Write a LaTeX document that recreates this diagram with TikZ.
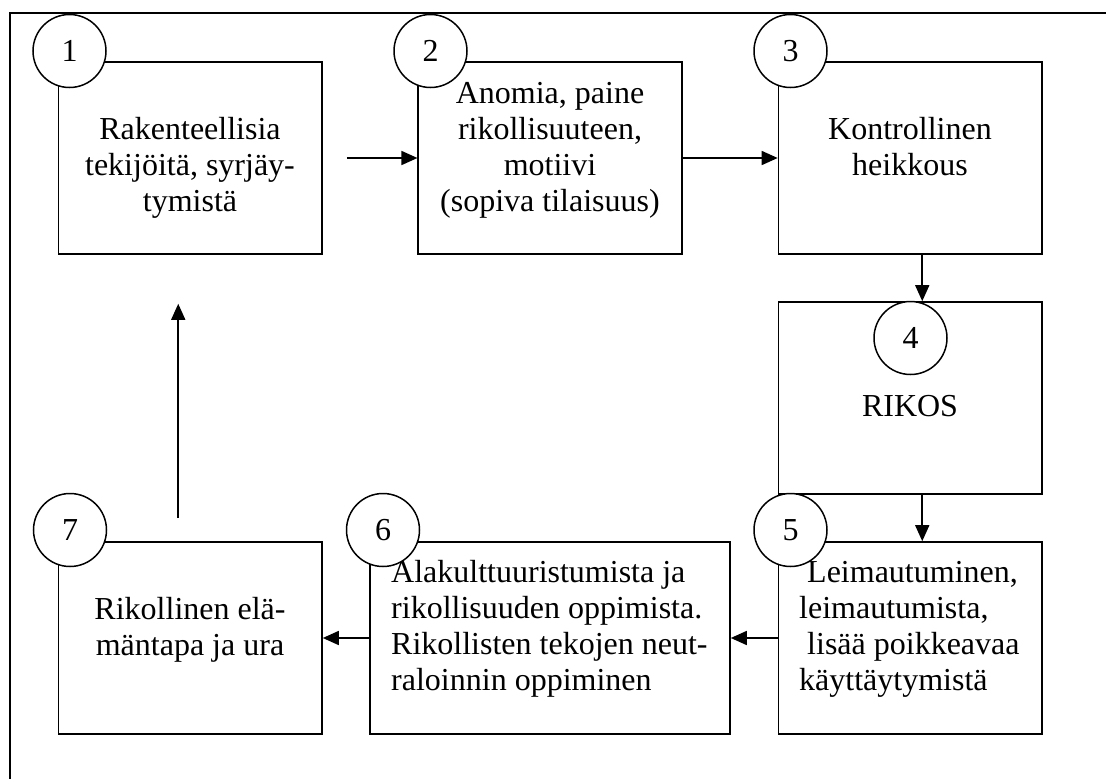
\documentclass[tikz,border=0pt]{standalone}
\usepackage{fontspec}
\setmainfont{Liberation Serif}
\usepackage{tikz}
\usetikzlibrary{positioning,shapes,arrows.meta,calc}

\tikzset{
  box/.style = {draw, line width=1.6pt, minimum width=263.5pt, minimum height=192pt, inner sep=0pt},
  num/.style = {draw, circle, line width=1.5pt, fill=white, minimum size=73pt, inner sep=0pt, font=\fontsize{32}{36}\selectfont},
  txt/.style = {inner sep=0pt, font=\fontsize{32}{36}\selectfont},
  arr/.style = {line width=1.6pt, -{Triangle[length=16pt, width=14pt]}}
}

\begin{document}
\begin{tikzpicture}[x=1pt, y=-1pt]

\useasboundingbox (0,0) rectangle (1106,779);
\draw[line width=2.2pt] (10,779) -- (10,13) -- (1106,13);

\node[box] (b1) at (190.25,158) {};
\node[box] (b2) at (550,158) {};
\node[box] (b3) at (910.25,158) {};
\node[box] (b4) at (910.25,398) {};
\node[box] (b5) at (910.25,638) {};
\node[box, minimum width=360pt] (b6) at (550,638) {};
\node[box] (b7) at (190.25,638) {};

\node[txt, anchor=north, align=center] (t1) at (190,113.8) {\strut Rakenteellisia\\tekijöitä, syrjäy-\\tymistä};
\node[txt, anchor=north, align=center] (t2) at (550,77.8) {\strut Anomia, paine\\rikollisuuteen,\\motiivi\\(sopiva tilaisuus)};
\node[txt, anchor=north, align=center] (t3) at (910,113.8) {\strut Kontrollinen\\heikkous};
\node[txt, anchor=north, align=center] (t4) at (910,390.8) {\strut RIKOS};
\node[txt, anchor=north west, align=left] (t5) at (799,556.8) {\strut\hspace*{8pt}Leimautuminen,\\leimautumista,\\\hspace*{8pt}lisää poikkeavaa\\käyttäytymistä};
\node[txt, anchor=north west, align=left] (t6) at (391,556.8) {\strut Alakulttuuristumista ja\\rikollisuuden oppimista.\\Rikollisten tekojen neut-\\raloinnin oppiminen};
\node[txt, anchor=north, align=center] (t7) at (190,593.8) {\strut Rikollinen elä-\\mäntapa ja ura};

\node[num] (c1) at (69.5,51) {1};
\node[num] (c2) at (430.5,51) {2};
\node[num] (c3) at (790.5,51) {3};
\node[num] (c4) at (910.5,338) {4};
\node[num] (c5) at (790.5,530) {5};
\node[num] (c6) at (383,530) {6};
\node[num] (c7) at (70,530) {7};

\draw[arr, shorten <=24pt] (b1.east) -- (b2.west);
\draw[arr] (b2.east) -- (b3.west);
\draw[arr] ([xshift=12pt]b3.south) -- ([xshift=12pt]b4.north);
\draw[arr] ([xshift=12pt]b4.south) -- ([xshift=12pt]b5.north);
\draw[arr] (b5.west) -- (b6.east);
\draw[arr] (b6.west) -- (b7.east);
\draw[arr, shorten <=23pt, shorten >=49pt] ([xshift=-12pt]b7.north) -- ([xshift=-12pt]b1.south);

\end{tikzpicture}
\end{document}
